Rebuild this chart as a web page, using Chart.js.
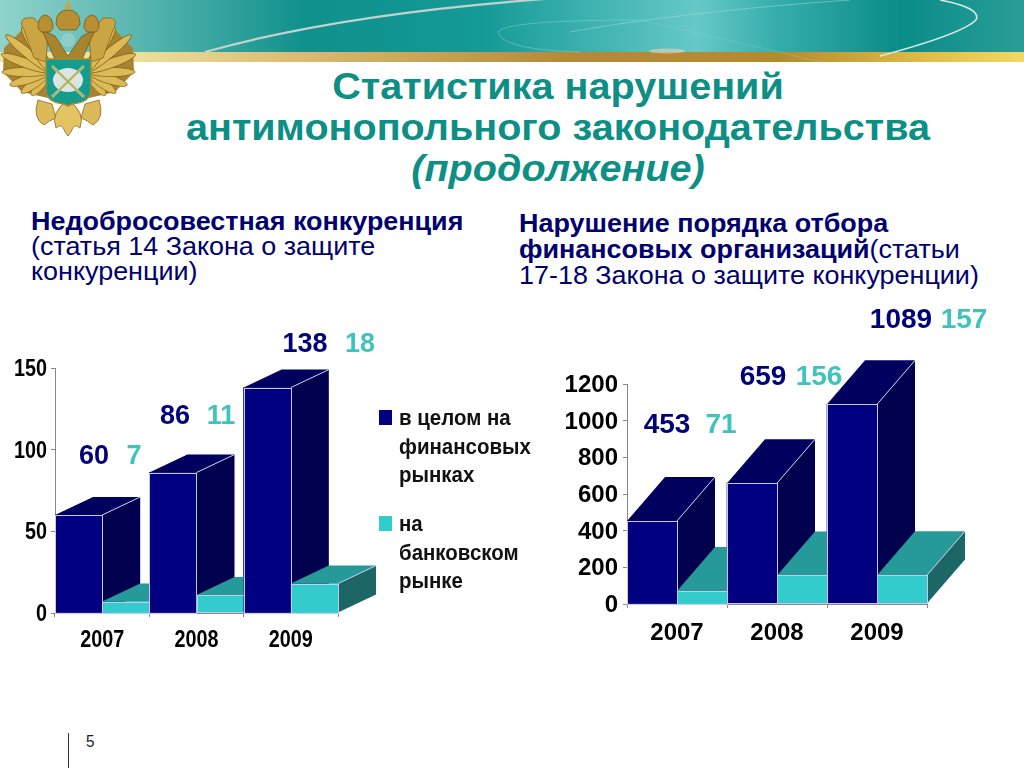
<!DOCTYPE html>
<html lang="ru"><head><meta charset="utf-8">
<script src="https://cdn.jsdelivr.net/npm/chart.js@4"></script>
<style>
html,body{margin:0;padding:0;background:#fff;width:1024px;height:768px;overflow:hidden;font-family:"Liberation Sans",Arial,sans-serif}
.t{position:absolute;white-space:nowrap;line-height:1;transform:translateY(-50%)}
.title{color:#0e8f85;font-weight:bold;font-size:37px;left:558px;transform:translate(-50%,-50%) scaleX(1.07)}
.h{color:#00006e;font-size:25px;transform:translateY(-50%) scaleX(1.077);transform-origin:left center}
.h b{font-weight:bold}
.lg{font-weight:bold;font-size:22px;color:#111;left:399px;transform:translateY(-50%) scaleX(.93);transform-origin:left center}
.sq{position:absolute;width:13px;height:15px}
canvas{position:absolute}
svg{position:absolute;left:0;top:0}
</style></head><body>
<svg width="1024" height="140" viewBox="0 0 1024 140">
<defs>
<linearGradient id="bn" x1="0" x2="1" y1="0" y2="0">
<stop offset="0" stop-color="#8fd3cb"/><stop offset=".14" stop-color="#56b5ae"/><stop offset=".3" stop-color="#0f908c"/><stop offset=".47" stop-color="#149a97"/><stop offset=".68" stop-color="#66c9c7"/><stop offset=".76" stop-color="#35adab"/><stop offset=".88" stop-color="#0a8c88"/><stop offset="1" stop-color="#2a9d97"/>
</linearGradient>
<linearGradient id="gd" x1="0" x2="1" y1="0" y2="0">
<stop offset=".12" stop-color="#efe1a2"/><stop offset=".3" stop-color="#d8ba70"/><stop offset=".55" stop-color="#b48a3a"/><stop offset=".76" stop-color="#b48a30"/><stop offset=".92" stop-color="#e3c24c"/><stop offset="1" stop-color="#f0d868"/>
</linearGradient>
<ellipse id="f" cx="-24" cy="0" rx="24" ry="4.6" fill="#dcba58" stroke="#7d5d18" stroke-width=".7"/>
<g id="wing">
<path d="M50,60 L28,24 L4,48 L3,72 L22,92 L48,98Z" fill="#a8842e"/>
<use href="#f" transform="translate(50,72) rotate(-52) scale(.62,1)"/>
<use href="#f" transform="translate(50,72) rotate(-36) scale(.74,1)"/>
<use href="#f" transform="translate(50,72) rotate(-18) scale(.88,1)"/>
<use href="#f" transform="translate(50,72) rotate(0) scale(1,1)"/>
<use href="#f" transform="translate(50,72) rotate(20) scale(1.08,1)"/>
<use href="#f" transform="translate(50,72) rotate(40) scale(1.2,1)"/>
<use href="#f" transform="translate(50,72) rotate(58) scale(1.1,1)"/>
</g>
</defs>
<rect x="0" y="0" width="1024" height="52" fill="url(#bn)"/>
<rect x="0" y="52" width="1024" height="10" fill="url(#gd)"/>
<g fill="none">
<path d="M205,52 Q340,14 545,-1" stroke="#c3d2cf" stroke-width="2.2"/>
<path d="M570,32 Q680,12 850,0" stroke="#9adad6" stroke-width="1" opacity=".55"/>
<path d="M940,0 Q982,8 976,20 Q962,34 880,56" stroke="#d4ecea" stroke-width="1.6"/>
<path d="M640,20 Q500,20 498,33 Q505,50 580,52" stroke="#8fd2cf" stroke-width="1" opacity=".5"/>
<path d="M640,20 Q720,38 820,62" stroke="#8fd2cf" stroke-width=".8" opacity=".4"/>
</g>
<ellipse cx="667" cy="51" rx="18" ry="2.5" fill="#e2d6be" opacity=".6"/>
<g id="emblem">
<use href="#wing"/>
<use href="#wing" transform="translate(137,0) scale(-1,1)"/>
<path d="M24,30 Q16,16 34,18 L48,34 L46,62 L34,58Z M113,30 Q121,16 103,18 L89,34 L91,62 L103,58Z" fill="#c9a544" stroke="#7d5d18" stroke-width=".7"/>
<path d="M42,30 L56,62 L81,62 L95,30 L82,36 L68,56 L55,36Z" fill="#a8842e" stroke="#6d5015" stroke-width=".7"/>
<path d="M38,100 Q32,118 44,125 Q50,120 56,118 L52,104Z M99,100 Q105,118 93,125 Q87,120 81,118 L85,104Z" fill="#dcba58" stroke="#7d5d18" stroke-width=".7"/>
<path d="M68,100 Q50,112 56,128 Q62,122 65,132 L68,136 L71,132 Q74,122 80,128 Q86,112 68,100Z" fill="#e4c462" stroke="#7d5d18" stroke-width=".7"/>
<path d="M46,59 L91,59 L91,90 Q91,102 72,104 L68,106 L64,104 Q46,102 46,90Z" fill="#169b8f" stroke="#a8892f" stroke-width="1.4"/>
<ellipse cx="68" cy="80" rx="15" ry="12" fill="#d9e6e2"/>
<path d="M52,66 L84,97 M84,66 L52,97" stroke="#d8c77a" stroke-width="2.6"/>
<path d="M52,66 L84,97 M84,66 L52,97" stroke="#6f8f5a" stroke-width=".8"/>
<path d="M56,24 Q56,10 68,10 Q80,10 80,24 L76,30 L60,30Z" fill="#b98f33" stroke="#6d5015" stroke-width=".7"/>
<path d="M64,9 L68,0 L72,9Z" fill="#c9a544"/>
<path d="M38,28 Q38,16 45,15 Q53,16 53,28 L50,32 L41,32Z M84,28 Q84,16 92,15 Q99,16 99,28 L96,32 L87,32Z" fill="#b98f33" stroke="#6d5015" stroke-width=".7"/>
<circle cx="68" cy="40" r="7" fill="#8ecfc9"/>
</g>
</svg>

<div class="t title" style="top:86px">Статистика нарушений</div>
<div class="t title" style="top:127px">антимонопольного законодательства</div>
<div class="t title" style="top:168px;font-style:italic">(продолжение)</div>

<div class="t h" style="left:31px;top:221px"><b>Недобросовестная конкуренция</b></div>
<div class="t h" style="left:31px;top:246px">(статья 14 Закона о защите</div>
<div class="t h" style="left:31px;top:271px">конкуренции)</div>
<div class="t h" style="left:519px;top:223px"><b>Нарушение порядка отбора</b></div>
<div class="t h" style="left:519px;top:249px"><b>финансовых организаций</b>(статьи</div>
<div class="t h" style="left:519px;top:275px">17-18 Закона о защите конкуренции)</div>

<canvas id="left" width="400" height="340" style="left:0;top:320px;width:400px;height:340px"></canvas>
<canvas id="right" width="484" height="360" style="left:540px;top:300px;width:484px;height:360px"></canvas>

<div class="sq" style="left:379px;top:410px;background:#000080"></div>
<div class="t lg" style="top:418px">в целом на</div>
<div class="t lg" style="top:447px">финансовых</div>
<div class="t lg" style="top:475px">рынках</div>
<div class="sq" style="left:379px;top:516px;background:#33cccc"></div>
<div class="t lg" style="top:524px">на</div>
<div class="t lg" style="top:553px">банковском</div>
<div class="t lg" style="top:581px">рынке</div>

<div style="position:absolute;left:68px;top:733px;width:1px;height:35px;background:#333"></div>
<div class="t" style="left:86px;top:741px;font-size:17px;color:#222;transform:translateY(-50%) scaleX(.9);transform-origin:left center">5</div>

<script>
const years = ['2007', '2008', '2009'];
const seriesNames = ['в целом на финансовых рынках', 'на банковском рынке'];
const leftTotal = [60, 86, 138];
const leftBank = [7, 11, 18];
const rightTotal = [453, 659, 1089];
const rightBank = [71, 156, 157];

const NAVY = {front:'#000080', side:'#00004f', top:'#00005f'};
const TEAL = {front:'#33cccc', side:'#1d6666', top:'#269999'};
const EDGE = '#c8c8ee';
const MID = 2;   // optical centring of digits on a "middle" baseline

const box3d = {
  id: 'box3d',
  afterDatasetsDraw(chart, args, o) {
    const c = chart.ctx;
    const sets = chart.data.datasets.map((d, i) => chart.getDatasetMeta(i).data);
    const looks = [NAVY, TEAL];
    c.save();
    years.forEach((_, k) => {
      sets.forEach((bars, s) => {
        const b = bars[k], L = looks[s];
        const x0 = b.x - b.width / 2, x1 = b.x + b.width / 2, y0 = b.y, y1 = b.base;
        const dx = o.dx, dy = o.dy;
        const poly = (pts, fill) => {
          c.beginPath();
          pts.forEach((p, i) => i ? c.lineTo(p[0], p[1]) : c.moveTo(p[0], p[1]));
          c.closePath(); c.fillStyle = fill; c.fill();
        };
        poly([[x1,y0],[x1+dx,y0-dy],[x1+dx,y1-dy],[x1,y1]], L.side);
        poly([[x0,y0],[x0+dx,y0-dy],[x1+dx,y0-dy],[x1,y0]], L.top);
        c.fillStyle = L.front;
        c.fillRect(x0, y0, b.width, y1 - y0);
        c.strokeStyle = EDGE; c.lineWidth = 1;
        c.strokeRect(Math.round(x0)+.5, Math.round(y0)+.5, Math.round(b.width), Math.round(y1-y0));
        c.beginPath(); c.moveTo(x1, y0); c.lineTo(x1+dx, y0-dy); c.stroke();
      });
    });
    c.textAlign = 'center'; c.textBaseline = 'middle';
    c.font = 'bold ' + o.valueSize + 'px "Liberation Sans"';
    chart.data.datasets.forEach((d, s) => {
      c.fillStyle = s ? '#3fc4bd' : '#00007a';
      d.data.forEach((v, k) => {
        const p = o.valueAt[s][k];
        c.fillText(String(v), p[0], p[1] + MID);
      });
    });
    // axis labels, taken from the library's own ticks
    c.fillStyle = '#000';
    c.font = 'bold ' + o.tickSize + 'px "Liberation Sans"';
    const sx = chart.scales.x, sy = chart.scales.y, n = o.narrow;
    sx.ticks.forEach((t, i) => {
      c.save(); c.translate(sx.getPixelForTick(i), o.xLabelY + MID); c.scale(n, 1);
      c.fillText(String(t.label), 0, 0); c.restore();
    });
    c.textAlign = 'right';
    sy.ticks.forEach((t, i) => {
      c.save(); c.translate(o.yLabelX, sy.getPixelForTick(i) + MID * .75); c.scale(n, 1);
      c.fillText(String(t.label), 0, 0); c.restore();
    });
    c.restore();
  }
};

function make(id, total, bank, cfg) {
  new Chart(document.getElementById(id), {
    type: 'bar',
    plugins: [box3d],
    data: {
      labels: years,
      datasets: [
        {label: seriesNames[0], data: total, backgroundColor: NAVY.front, categoryPercentage: 1, barPercentage: 1},
        {label: seriesNames[1], data: bank, backgroundColor: TEAL.front, categoryPercentage: 1, barPercentage: 1}
      ]
    },
    options: {
      responsive: false, animation: false,
      layout: {padding: cfg.padding},
      plugins: {legend: {display: false}, tooltip: {enabled: false},
        box3d: cfg.box},
      scales: {
        x: {
          grid: {drawOnChartArea: false, color: '#888', tickLength: 4, offset: true},
          border: {color: '#888'},
          ticks: {display: false},
          afterFit(s) { s.height = cfg.xHeight; }
        },
        y: {
          min: 0, max: cfg.max,
          grid: {drawOnChartArea: false, color: '#888', tickLength: 4},
          border: {color: '#888'},
          ticks: {display: false, stepSize: cfg.step, callback: v => String(v)},
          afterFit(s) { s.width = cfg.yWidth; }
        }
      }
    }
  });
}

make('left', leftTotal, leftBank, {
  padding: {left: 0, top: 48, right: 62, bottom: 0},
  xHeight: 47, yWidth: 55, max: 150, step: 50,
  box: {dx: 38, dy: 18, valueSize: 27, tickSize: 23, narrow: .86, xLabelY: 319, yLabelX: 47,
    valueAt: [[[94,135],[175,95],[305,23]], [[134,135],[221,95],[360,23]]]}
});
make('right', rightTotal, rightBank, {
  padding: {left: 0, top: 84, right: 97, bottom: 0},
  xHeight: 56, yWidth: 87, max: 1200, step: 200,
  box: {dx: 38, dy: 44, valueSize: 28, tickSize: 24, narrow: 1, xLabelY: 331, yLabelX: 78,
    valueAt: [[[127,123],[223,75],[361,18]], [[181,123],[279,75],[424,18]]]}
});
</script>
</body></html>
